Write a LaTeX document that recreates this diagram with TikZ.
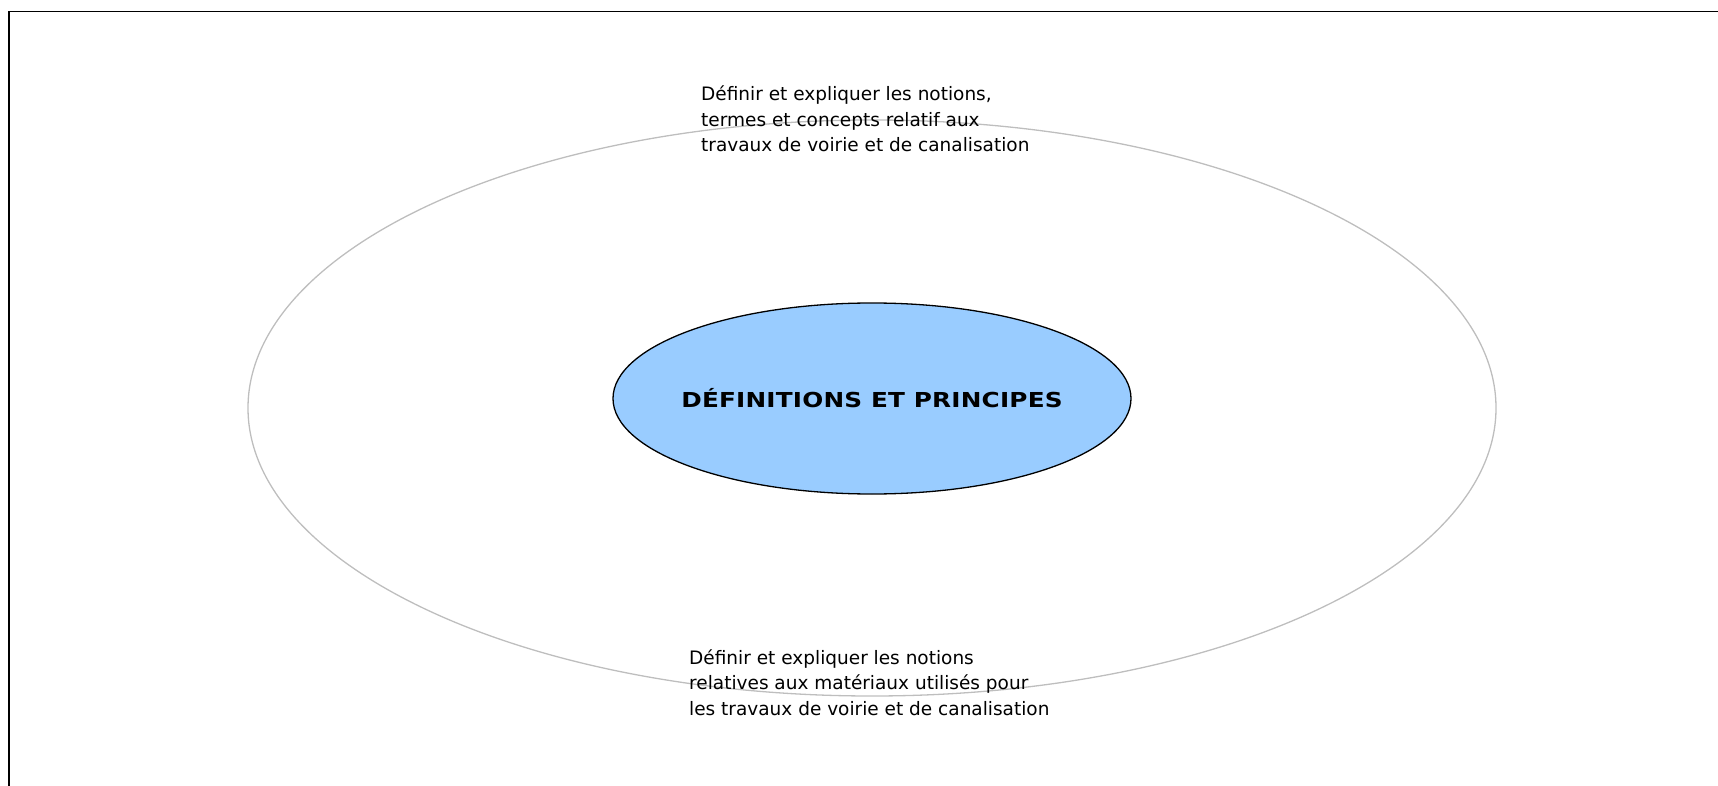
\documentclass[tikz,border=0pt]{standalone}
\usepackage{fontspec}
\usepackage{xcolor}
\usetikzlibrary{shapes.geometric}
\setmainfont{DejaVu Sans}
\newfontfamily\titrefont{DejaVu Sans}[FakeStretch=1.2,LetterSpace=1]
\definecolor{bleu}{RGB}{153,204,255}
\definecolor{gristrait}{RGB}{190,190,190}

\begin{document}
\begin{tikzpicture}[x=1pt,y=-1pt,
    notion/.style={align=left,inner sep=0pt,anchor=base west,
        font=\fontsize{18.5}{25.5}\selectfont}]
    \useasboundingbox (0,0) rectangle (1718,786);

    %frame
    \draw[line width=1.5pt] (9,786) |- (1718,11.3);

    %outer ellipse
    \node[ellipse,draw=gristrait,line width=1.3pt,inner sep=0pt,
        minimum width=1248pt,minimum height=576pt] (anneau) at (872,408) {};

    %central ellipse
    \node[ellipse,draw,fill=bleu,line width=1.3pt,inner sep=0pt,
        minimum width=518pt,minimum height=191pt] (centre) at (872,398.5) {};
    \node[inner sep=0pt,font=\titrefont\bfseries\fontsize{20.6}{24}\selectfont]
        (titre) at (centre) {DÉFINITIONS ET PRINCIPES};

    %top text (base = last line)
    \node[notion] (haut) at (701,151.7)
        {Définir et expliquer les notions,\\
         termes et concepts relatif aux\\
         travaux de voirie et de canalisation};

    %bottom text
    \node[notion] (bas) at (689,715)
        {Définir et expliquer les notions\\
         relatives aux matériaux utilisés pour\\
         les travaux de voirie et de canalisation};
\end{tikzpicture}
\end{document}
